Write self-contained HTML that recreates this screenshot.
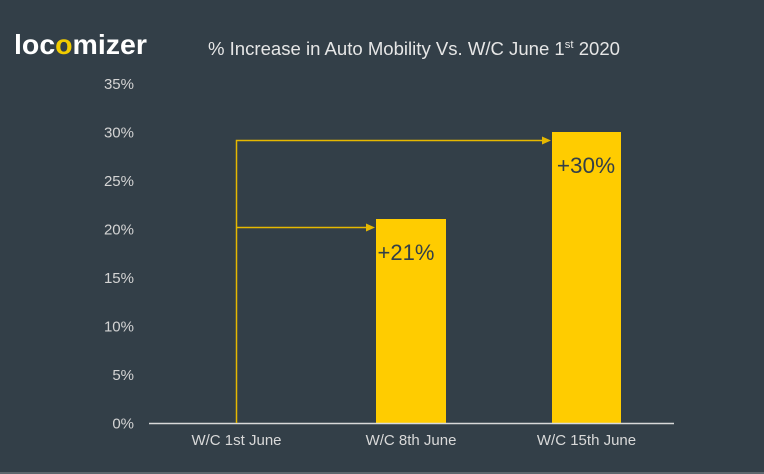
<!DOCTYPE html>
<html><head><meta charset="utf-8"><style>
html,body{margin:0;padding:0;background:#333f48;}
svg{display:block;}
text{font-family:"Liberation Sans",Arial,sans-serif;}
</style></head><body>
<svg width="764" height="474" viewBox="0 0 764 474" xmlns="http://www.w3.org/2000/svg">
<rect x="0" y="0" width="764" height="474" fill="#333f48"/>
<rect x="0" y="472" width="764" height="2" fill="#5d666d"/>
<!-- logo -->
<text x="14" y="54" font-size="28" font-weight="bold" fill="#ffffff" textLength="133" lengthAdjust="spacingAndGlyphs">loc<tspan fill="#f2cc00">o</tspan>mizer</text>
<!-- title -->
<text x="208" y="55" font-size="18" fill="#e6e6e6" textLength="412" lengthAdjust="spacingAndGlyphs">% Increase in Auto Mobility Vs. W/C June 1<tspan font-size="11" dy="-7">st</tspan><tspan dy="7"> 2020</tspan></text>
<!-- y labels -->
<g font-size="15" fill="#d4d4d4" text-anchor="end">
<text x="134" y="89">35%</text>
<text x="134" y="137.5">30%</text>
<text x="134" y="186">25%</text>
<text x="134" y="234.5">20%</text>
<text x="134" y="283">15%</text>
<text x="134" y="331.5">10%</text>
<text x="134" y="380">5%</text>
<text x="134" y="428.5">0%</text>
</g>
<!-- bars -->
<rect x="376" y="219" width="70" height="204" fill="#ffcc00"/>
<rect x="552" y="132" width="69" height="291" fill="#ffcc00"/>
<!-- axis -->
<line x1="149" y1="423.5" x2="674" y2="423.5" stroke="#d9d9d9" stroke-width="1.5"/>
<!-- arrows -->
<g stroke="#e6b800" stroke-width="1.5" fill="none">
<polyline points="236.5,423 236.5,140.5 542,140.5"/>
<line x1="236.5" y1="227.5" x2="367" y2="227.5"/>
</g>
<polygon points="551,140.5 542,136.5 542,144.5" fill="#e6b800"/>
<polygon points="375,227.5 366,223.5 366,231.5" fill="#e6b800"/>
<!-- bar labels -->
<text x="406" y="260" font-size="22" fill="#333f48" text-anchor="middle">+21%</text>
<text x="586" y="173" font-size="22.5" fill="#333f48" text-anchor="middle">+30%</text>
<!-- x labels -->
<g font-size="15" fill="#d9d9d9" text-anchor="middle">
<text x="236.5" y="445">W/C 1st June</text>
<text x="411" y="445">W/C 8th June</text>
<text x="586.5" y="445">W/C 15th June</text>
</g>
</svg>
</body></html>
